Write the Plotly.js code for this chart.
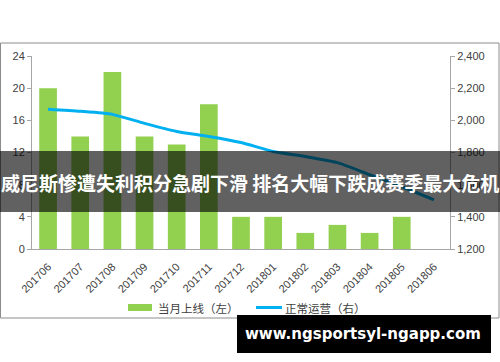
<!DOCTYPE html>
<html>
<head>
<meta charset="utf-8">
<script src="https://cdn.plot.ly/plotly-3.0.1.min.js"></script>
<style>
html,body{margin:0;padding:0;background:#fff;}
#chart{width:500px;height:362px;}
</style>
</head>
<body>
<div id="chart"></div>
<script>
// ---- data ----
const months = ['201706','201707','201708','201709','201710','201711','201712','201801','201802','201803','201804','201805','201806'];
const newOnline = [20, 14, 22, 14, 13, 18, 4, 4, 2, 3, 2, 4, null];
const operating = [2069, 2056, 2037, 1981, 1931, 1900, 1862, 1806, 1775, 1737, 1662, 1587, 1506];
const seriesNames = ['当月上线（左）', '正常运营（右）'];
const seriesColors = ['#92d050', '#00b0f0'];
const leftTicks = [0, 4, 8, 12, 16, 20, 24];
const rightTicks = [1200, 1400, 1600, 1800, 2000, 2200, 2400];
const bannerText = '威尼斯惨遭失利积分急剧下滑 排名大幅下跌成赛季最大危机';
const siteText = 'www.ngsportsyl-ngapp.com';

// pixel helpers (plot area: l=32, r=50, t=56, b=113 -> 418 x 193)
const PL = 32, PW = 418, PB = 249, PH = 193;
const px = v => (v - PL) / PW;
const py = v => (PB - v) / PH;

const traces = [
  {
    type: 'bar', x: months, y: newOnline, name: seriesNames[0],
    marker: {color: seriesColors[0]}, width: 0.55, yaxis: 'y'
  },
  {
    type: 'scatter', mode: 'lines', x: months, y: operating, name: seriesNames[1],
    line: {color: seriesColors[1], width: 3, shape: 'spline', smoothing: 0.6}, yaxis: 'y2'
  }
];

const tickFont = {family: 'Liberation Sans, Arial, sans-serif', size: 11, color: '#404040'};
const legFont = {family: 'Noto Sans CJK SC, sans-serif', size: 11.5, color: '#404040'};

const layout = {
  width: 500, height: 362,
  margin: {l: 32, r: 50, t: 56, b: 113},
  paper_bgcolor: '#fff', plot_bgcolor: 'rgba(0,0,0,0)',
  showlegend: false,
  xaxis: {
    type: 'category', showgrid: false, zeroline: false,
    showline: true, linecolor: '#a6a6a6', linewidth: 1,
    ticks: '', tickangle: -45, tickfont: tickFont, ticklabelstandoff: 6,
    range: [-0.5, 12.5], fixedrange: true
  },
  yaxis: {
    range: [0, 24], tickvals: leftTicks, showgrid: false, zeroline: false,
    showline: true, linecolor: '#a6a6a6', linewidth: 1,
    ticks: 'outside', ticklen: 4, tickcolor: '#a6a6a6', tickfont: tickFont
  },
  yaxis2: {
    overlaying: 'y', side: 'right', range: [1200, 2400], tickvals: rightTicks,
    tickformat: ',d', showgrid: false, zeroline: false,
    showline: true, linecolor: '#a6a6a6', linewidth: 1,
    ticks: 'outside', ticklen: 4, tickcolor: '#a6a6a6', tickfont: tickFont
  },
  shapes: [
    {type: 'rect', xref: 'paper', yref: 'paper', layer: 'below',
     x0: px(0.5), x1: px(499), y0: py(318), y1: py(43),
     line: {color: '#8c8c8c', width: 1}, fillcolor: 'rgba(0,0,0,0)'},
    // legend swatches
    {type: 'rect', xref: 'paper', yref: 'paper', layer: 'above',
     x0: px(128), x1: px(152), y0: py(311), y1: py(304),
     line: {width: 0}, fillcolor: seriesColors[0]},
    {type: 'line', xref: 'paper', yref: 'paper', layer: 'above',
     x0: px(256), x1: px(282), y0: py(307.5), y1: py(307.5),
     line: {width: 3, color: seriesColors[1]}},
    // banner band
    {type: 'rect', xref: 'paper', yref: 'paper', layer: 'above',
     x0: px(0), x1: px(500), y0: py(212), y1: py(151),
     line: {width: 0}, fillcolor: 'rgba(0,0,0,0.62)'},
    // site box
    {type: 'rect', xref: 'paper', yref: 'paper', layer: 'above',
     x0: px(237), x1: px(491), y0: py(353), y1: py(315),
     line: {width: 0}, fillcolor: '#000'}
  ],
  annotations: [
    {xref: 'paper', yref: 'paper', x: px(156), y: py(307.5), xanchor: 'left', yanchor: 'middle',
     text: seriesNames[0], showarrow: false, font: legFont},
    {xref: 'paper', yref: 'paper', x: px(283), y: py(307.5), xanchor: 'left', yanchor: 'middle',
     text: seriesNames[1], showarrow: false, font: legFont},
    {xref: 'paper', yref: 'paper', x: px(250), y: py(182), xanchor: 'center', yanchor: 'middle',
     text: '<b>' + bannerText + '</b>', showarrow: false,
     font: {family: 'Noto Sans CJK SC, sans-serif', size: 19, color: '#fff'}},
    {xref: 'paper', yref: 'paper', x: px(363), y: py(334), xanchor: 'center', yanchor: 'middle',
     text: '<b>' + siteText + '</b>', showarrow: false,
     font: {family: 'DejaVu Sans, sans-serif', size: 15, color: '#fff'}}
  ]
};

Plotly.newPlot('chart', traces, layout, {displayModeBar: false, staticPlot: true});
</script>
</body>
</html>
